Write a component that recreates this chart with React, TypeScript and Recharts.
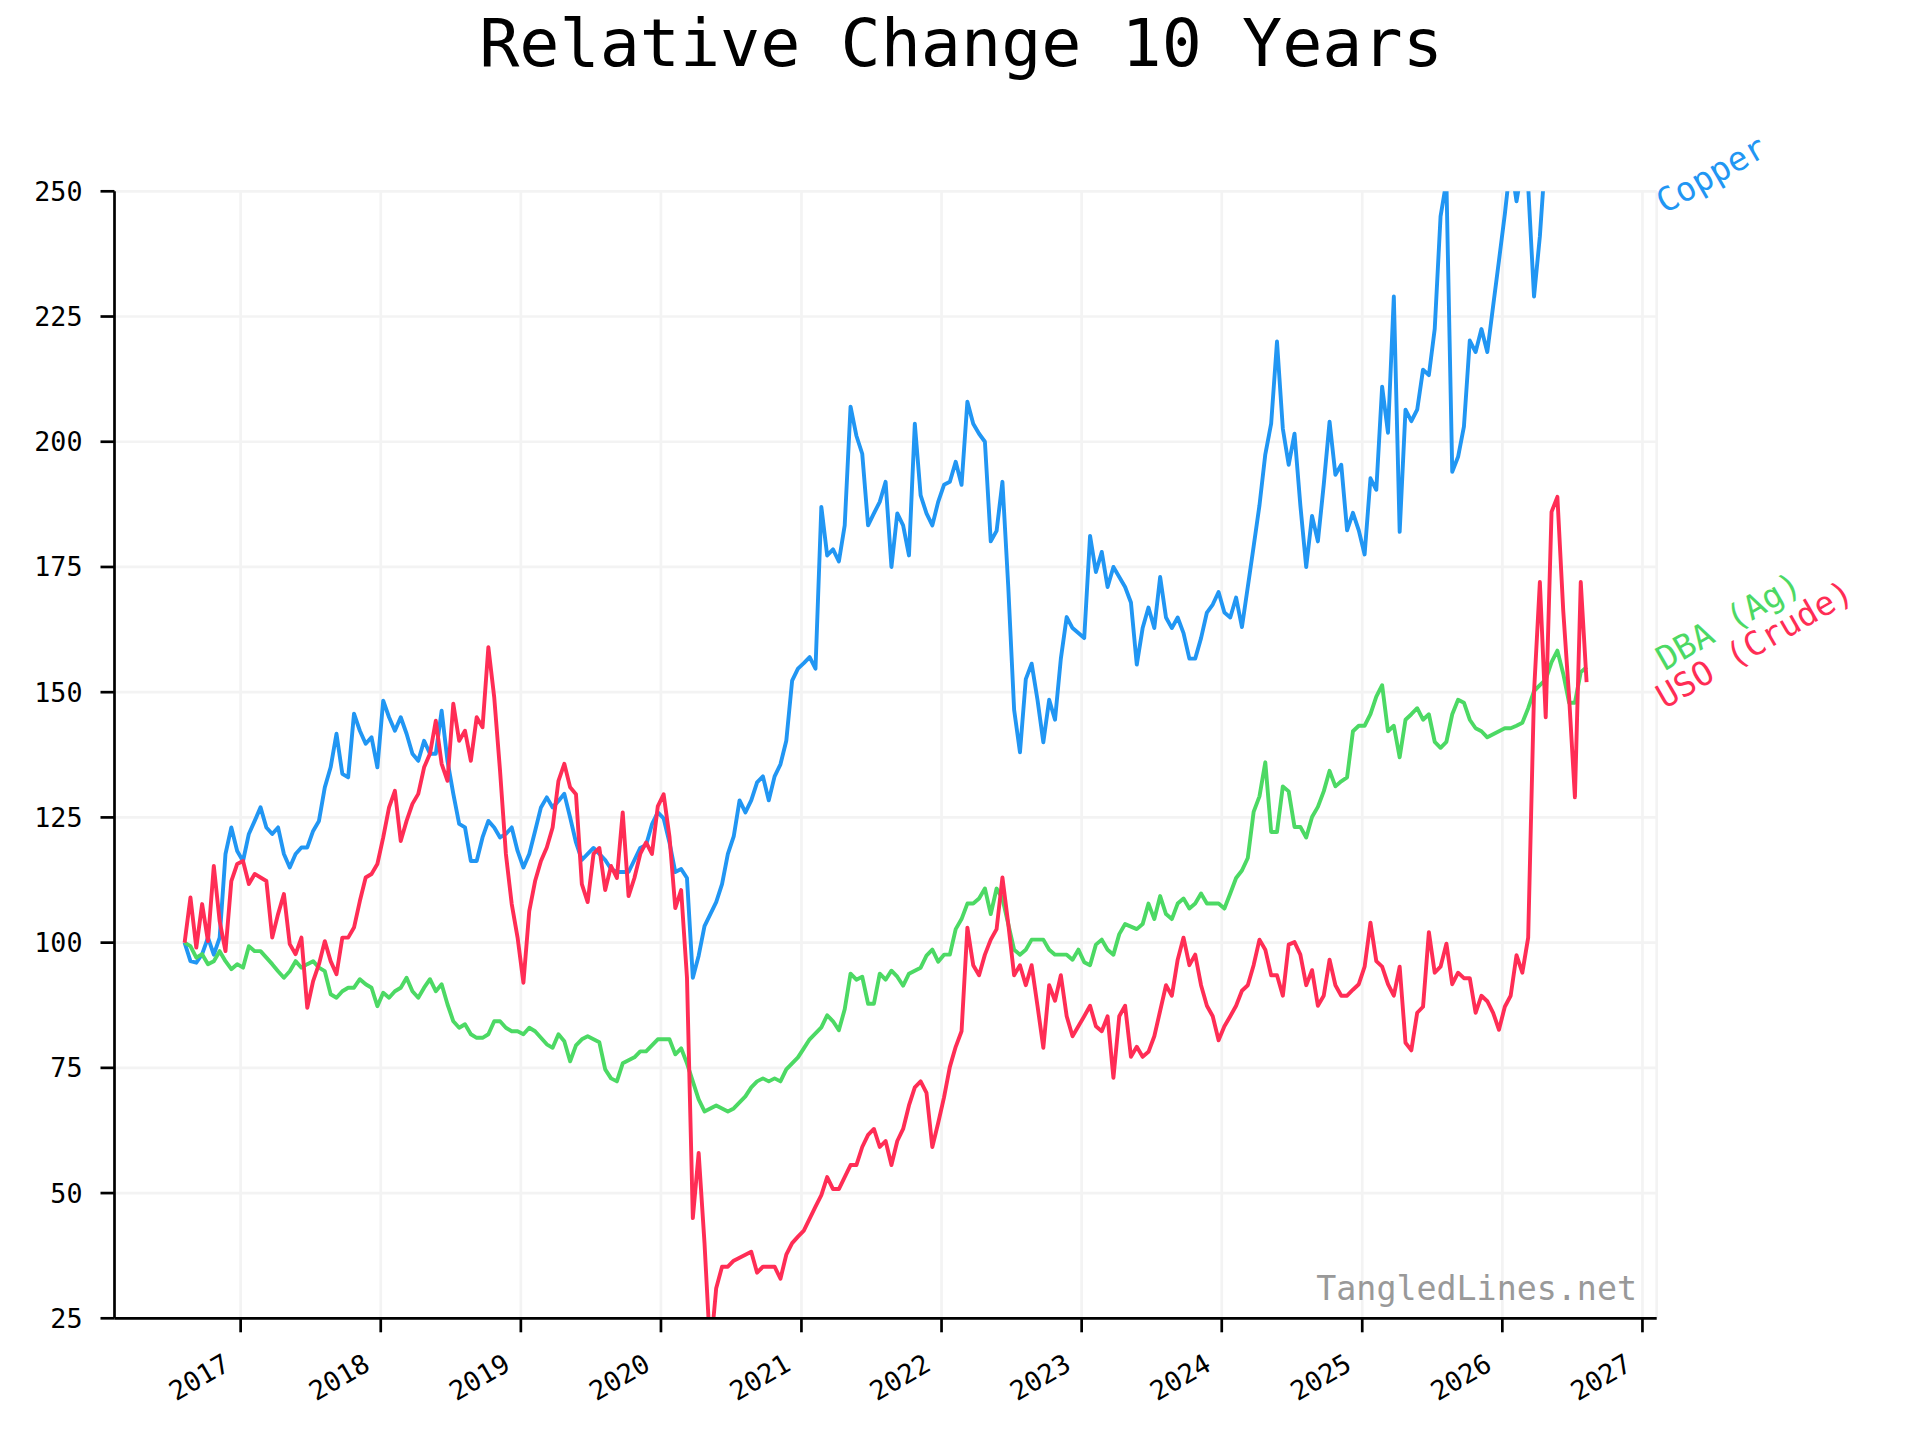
import React from 'react';
import { LineChart, Line, XAxis, YAxis, CartesianGrid, LabelList } from 'recharts';

const FONT = '"DejaVu Sans Mono", monospace';

// half-monthly samples, starting 8 Aug 2016
const startDate = Date.UTC(2016, 7, 8);
const stepDays = 365.25 / 24;

const copper = [
  100, 96.3, 96, 97.7, 101, 97.6, 101, 117.7, 123, 118.3,
  116.3, 121.7, 124.3, 127, 123, 121.7, 123, 117.7, 115, 117.7,
  119, 119, 122.3, 124.3, 131, 135, 141.7, 133.7, 133, 145.7,
  142.3, 139.7, 141, 135, 148.3, 145, 142.3, 145, 141.7, 137.7,
  136.3, 140.3, 137.7, 137.7, 146.3, 136.3, 129.7, 123.7, 123, 116.3,
  116.3, 121, 124.3, 123, 121, 121.7, 123, 118.3, 115, 117.7,
  122.3, 127, 129, 127, 128.3, 129.7, 125, 120, 116.5, 117.7,
  118.9, 117.7, 116.5, 114.7, 114.1, 114.1, 114.1, 116.5, 118.9, 119.5,
  123.6, 126, 124.8, 120, 114.1, 114.7, 112.9, 93, 97.4, 103.3,
  105.7, 108.1, 111.7, 117.7, 121.2, 128.4, 126, 128.4, 132, 133.2,
  128.4, 133.2, 135.6, 140.3, 152.3, 154.7, 155.8, 157, 154.7, 187,
  177.3, 178.5, 176.1, 183.3, 207, 201.2, 197.6, 183.3, 185.7, 188,
  192, 175, 185.7, 183.3, 177.3, 203.6, 189.3, 185.7, 183.3, 188,
  191.4, 192, 196, 191.4, 208, 203.6, 201.6, 200, 180.1, 182.2,
  192, 171, 146.5, 138, 152.6, 155.7, 148.5, 140, 148.5, 144.5,
  156.7, 165, 162.8, 161.8, 160.8, 181.2, 174, 178, 171, 175,
  173, 171, 167.9, 155.5, 162.8, 166.9, 162.8, 173, 164.9, 162.8,
  164.9, 161.8, 156.7, 156.7, 160.8, 165.9, 167.5, 170, 165.9, 164.9,
  168.9, 163, 171, 179.1, 187.3, 197.5, 203.6, 220, 202.6, 195.4,
  201.6, 187.3, 175, 185.2, 180.1, 191.4, 204, 193.4, 195.4, 182.3,
  185.8, 182.3, 177.5, 192.7, 190.4, 211, 201.8, 229, 182, 206.4,
  204.1, 206.4, 214.4, 213.3, 222.5, 245, 252, 194, 197, 203,
  220.2, 217.9, 222.5, 217.9, 227.1, 236.2, 245.4, 256, 248, 255,
  251, 229, 241, 258, 262, 266, 270, 265, 272, 276,
  274,
];

const dba = [
  100, 99.3, 97, 97.7, 95.7, 96.3, 98.3, 96.3, 94.7, 95.7,
  95, 99.3, 98.3, 98.3, 97, 95.7, 94.3, 93, 94.3, 96.3,
  95, 95.7, 96.3, 95, 94.3, 89.7, 89, 90.3, 91, 91,
  92.7, 91.7, 91, 87.3, 90, 89, 90.3, 91, 93, 90.3,
  89, 91, 92.7, 90.3, 91.7, 87.7, 84.3, 83, 83.7, 81.7,
  81, 81, 81.7, 84.3, 84.3, 83, 82.3, 82.3, 81.7, 83,
  82.3, 81, 79.7, 79, 81.7, 80.3, 76.3, 79.5, 80.7, 81.3,
  80.7, 80.1, 74.7, 72.9, 72.3, 75.9, 76.5, 77.1, 78.3, 78.3,
  79.5, 80.7, 80.7, 80.7, 77.7, 78.9, 75.9, 72.3, 68.7, 66.3,
  66.9, 67.5, 66.9, 66.3, 66.9, 68.1, 69.3, 71.1, 72.3, 72.9,
  72.3, 72.9, 72.3, 74.7, 75.9, 77.1, 78.9, 80.7, 81.9, 83.1,
  85.5, 84.3, 82.5, 86.7, 93.8, 92.6, 93.2, 87.8, 87.8, 93.8,
  92.6, 94.4, 93.2, 91.4, 93.8, 94.4, 95, 97.4, 98.6, 96.2,
  97.6, 97.6, 102.7, 104.7, 107.8, 107.8, 108.8, 110.8, 105.7, 110.8,
  108.8, 103.7, 98.6, 97.6, 98.6, 100.6, 100.6, 100.6, 98.6, 97.6,
  97.6, 97.6, 96.6, 98.6, 96.1, 95.5, 99.6, 100.6, 98.6, 97.6,
  101.7, 103.7, 103.2, 102.7, 103.7, 107.8, 104.7, 109.3, 105.7, 104.7,
  107.8, 108.8, 106.8, 107.8, 109.8, 107.8, 107.8, 107.8, 106.8, 109.8,
  112.9, 114.4, 116.9, 126.1, 129.2, 136, 122.1, 122.1, 131.2, 130.2,
  123.1, 123.1, 121, 125.1, 127.1, 130.2, 134.3, 131.2, 132.2, 133,
  142.2, 143.3, 143.3, 145.6, 149.1, 151.4, 142.2, 143.3, 137, 144.5,
  145.6, 146.8, 144.5, 145.6, 140.1, 138.9, 140.1, 145.6, 148.5, 147.9,
  144.5, 142.8, 142.2, 141, 141.6, 142.2, 142.8, 142.8, 143.3, 143.9,
  146.8, 150.2, 151.4, 152.5, 156, 158.3, 153.7, 147.9, 147.9, 154,
  155,
];

const uso = [
  100, 109, 99, 107.7, 100.3, 115.3, 104.3, 98.3, 112.3, 115.7,
  116.3, 111.7, 113.7, 113, 112.3, 101, 105.7, 109.7, 99.7, 97.7,
  101, 87, 92.3, 95.7, 100.3, 96.3, 93.7, 101, 101, 103,
  108.3, 113, 113.7, 115.7, 121, 127, 130.3, 120.3, 124.3, 127.7,
  129.7, 135, 137.7, 144.3, 135.7, 132.3, 147.7, 140.3, 142.3, 136.3,
  145, 143, 159, 149, 134.3, 117.7, 107.7, 101, 92, 106.3,
  112.3, 116.3, 119, 123, 132.3, 135.7, 131, 129.6, 111.7, 108.1,
  117.7, 118.9, 110.5, 115.3, 112.9, 126, 109.3, 112.9, 117.7, 120,
  117.7, 127.2, 129.6, 121.2, 106.9, 110.5, 93, 45, 58, 40,
  18, 31, 35.3, 35.3, 36.5, 37.1, 37.7, 38.3, 34.1, 35.3,
  35.3, 35.3, 32.9, 37.7, 40, 41.3, 42.5, 44.9, 47.3, 49.6,
  53.2, 50.8, 50.8, 53.2, 55.6, 55.6, 59.2, 61.6, 62.8, 59.2,
  60.4, 55.6, 60.4, 62.8, 67.5, 71.1, 72.3, 70, 59.2, 64,
  69.1, 75.2, 79.2, 82.3, 103, 95.5, 93.5, 97.6, 100.6, 102.7,
  113, 103.7, 93.5, 95.5, 91.5, 95.5, 87.4, 79, 91.5, 88.4,
  93.5, 85.3, 81.3, 83.3, 85.3, 87.4, 83.3, 82.3, 85.3, 73,
  85.3, 87.4, 77.2, 79.2, 77.2, 78.2, 81.3, 86.4, 91.5, 89.4,
  96.6, 101, 95.5, 97.6, 91.5, 87.4, 85.3, 80.5, 83.3, 85.3,
  87.4, 90.4, 91.5, 95.5, 100.6, 98.6, 93.5, 93.5, 89.4, 99.6,
  100.1, 97.6, 91.5, 94.5, 87.4, 89.4, 96.6, 91.5, 89.4, 89.4,
  90.6, 91.7, 95.2, 104, 96.3, 95.2, 91.7, 89.4, 95.2, 80,
  78.5, 86, 87.2, 102.1, 94, 95.2, 99.8, 91.7, 94, 92.9,
  92.9, 86, 89.4, 88.3, 86, 82.6, 87.2, 89.4, 97.5, 94,
  101, 150, 172, 145, 186, 189, 166.3, 149.1, 129, 172,
  152,
];

const yTicks = [25, 50, 75, 100, 125, 150, 175, 200, 225, 250];
const tickYears = [2017, 2018, 2019, 2020, 2021, 2022, 2023, 2024, 2025, 2026, 2027];

const series = [
  { key: 'copper', name: 'Copper', color: '#2196F3', dy: 23 },
  { key: 'dba', name: 'DBA (Ag)', color: '#4CD964', dy: 4 },
  { key: 'uso', name: 'USO (Crude)', color: '#FF2D55', dy: 27 },
];

const DAY = 86400000;
const dates = copper.map((_, i) => startDate + i * stepDays * DAY);
const rows = dates.map((t, i) => ({ t, copper: copper[i], dba: dba[i], uso: uso[i] }));
const LAST = rows.length - 1;

const span = dates[LAST] - dates[0];
const xDomain = [dates[0] - span * 0.05, dates[LAST] + span * 0.05];
const xTicks = tickYears.map((y) => Date.UTC(y, 0, 1));

const W = 1920;
const H = 1440;
const PLOT_TOP = 191.3;
const PLOT_RIGHT = 1656.7;

function YearTick(props: any) {
  const { x, y, payload } = props;
  const ax = x - 9;
  const ay = y + 37;
  return (
    <text
      x={ax}
      y={ay}
      transform={`rotate(-30 ${ax} ${ay})`}
      textAnchor="end"
      fontSize={26.7}
      fontFamily={FONT}
      fill="#000"
    >
      {new Date(payload.value).getUTCFullYear()}
    </text>
  );
}

function makeTag(name: string, color: string, dy: number) {
  return (props: any) => {
    if (props.index !== LAST) return null;
    const py = props.y ?? props.viewBox?.y;
    const tx = PLOT_RIGHT + 8;
    const ty = Math.max(py, PLOT_TOP) + dy;
    return (
      <text
        x={tx}
        y={ty}
        transform={`rotate(-30 ${tx} ${ty})`}
        fontSize={33.3}
        fontFamily={FONT}
        fill={color}
      >
        {name}
      </text>
    );
  };
}

export default function App() {
  return (
    <div style={{ position: 'absolute', left: 0, top: 0, width: W, height: H, background: '#fff' }}>
      <LineChart
        width={W}
        height={H}
        data={rows}
        margin={{ top: PLOT_TOP, right: W - PLOT_RIGHT, bottom: 21.7, left: 14.5 }}
      >
        <CartesianGrid stroke="#f3f3f3" strokeWidth={2.7} />
        <XAxis
          dataKey="t"
          type="number"
          domain={xDomain}
          ticks={xTicks}
          interval={0}
          height={100}
          tickSize={14}
          tickMargin={0}
          axisLine={{ stroke: '#000', strokeWidth: 2.7 }}
          tickLine={{ stroke: '#000', strokeWidth: 2.7 }}
          tick={<YearTick />}
        />
        <YAxis
          type="number"
          domain={[25, 250]}
          ticks={yTicks}
          allowDataOverflow
          interval={0}
          width={100}
          tickSize={14}
          tickMargin={18}
          axisLine={{ stroke: '#000', strokeWidth: 2.7 }}
          tickLine={{ stroke: '#000', strokeWidth: 2.7 }}
          tick={{ fill: '#000', fontSize: 26.7, fontFamily: FONT }}
        />
        {series.map((s) => (
          <Line
            key={s.key}
            dataKey={s.key}
            type="linear"
            stroke={s.color}
            strokeWidth={3.9}
            strokeLinejoin="round"
            dot={false}
            isAnimationActive={false}
          >
            <LabelList dataKey={s.key} content={makeTag(s.name, s.color, s.dy)} />
          </Line>
        ))}
      </LineChart>
      <svg
        width={W}
        height={H}
        style={{ position: 'absolute', left: 0, top: 0, pointerEvents: 'none' }}
      >
        <text x={961} y={65.7} textAnchor="middle" fontSize={66.7} fontFamily={FONT} fill="#000">
          Relative Change 10 Years
        </text>
        <text x={1637} y={1300} textAnchor="end" fontSize={33.3} fontFamily={FONT} fill="#999">
          TangledLines.net
        </text>
      </svg>
    </div>
  );
}
